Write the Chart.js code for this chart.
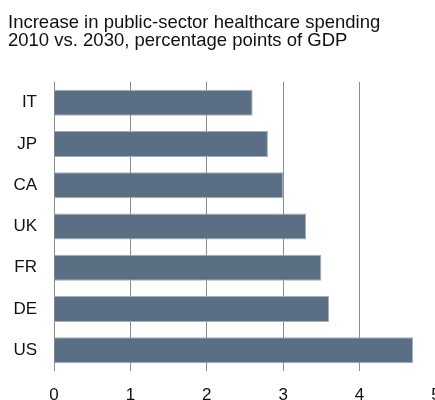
<!DOCTYPE html>
<html>
<head>
<meta charset="utf-8">
<script src="https://cdn.jsdelivr.net/npm/chart.js@4/dist/chart.umd.min.js"></script>
<style>
  html, body { margin: 0; padding: 0; background: #fff; overflow: hidden; }
  #wrap { width: 435px; height: 400px; overflow: hidden; position: relative; }
  canvas { position: absolute; left: 0; top: 0; }
</style>
</head>
<body>
<div id="wrap"><canvas id="c" width="460" height="420"></canvas></div>
<script>
// data
const titleLines = ['Increase in public-sector healthcare spending', '2010 vs. 2030, percentage points of GDP'];
const countries = ['IT', 'JP', 'CA', 'UK', 'FR', 'DE', 'US'];
const increase = [2.6, 2.8, 3.0, 3.3, 3.5, 3.6, 4.7];
const xTicks = [0, 1, 2, 3, 4, 5];

const FONT = "'Liberation Sans', Arial, sans-serif";
const BAR = '#5b6f84';
const GRID = '#8c8c8c';

Chart.defaults.font.family = FONT;
Chart.defaults.color = '#111';

new Chart(document.getElementById('c'), {
  type: 'bar',
  data: {
    labels: countries,
    datasets: [{
      data: increase,
      backgroundColor: BAR,
      borderColor: '#a3afbc',
      borderWidth: 1,
      borderSkipped: 'start',
      barPercentage: 0.63,
      categoryPercentage: 1
    }]
  },
  options: {
    indexAxis: 'y',
    responsive: false,
    animation: false,
    devicePixelRatio: 1,
    layout: { padding: { left: 8, right: 24, top: 0, bottom: 17 } },
    scales: {
      x: {
        min: 0,
        max: 5,
        afterBuildTicks: (scale) => {
          scale.ticks = xTicks.map(v => ({ value: v }));
        },
        afterFit: (scale) => { scale.height = 32; },
        ticks: { font: { size: 17 }, color: '#111', padding: 14, maxRotation: 0 },
        grid: { color: GRID, lineWidth: 1, drawTicks: false },
        border: { display: false }
      },
      y: {
        afterFit: (scale) => { scale.width = 46; },
        ticks: { font: { size: 17 }, color: '#111', padding: 17 },
        grid: { display: false, drawTicks: false },
        border: { display: false }
      }
    },
    plugins: {
      legend: { display: false },
      tooltip: { enabled: false },
      title: {
        display: true,
        text: titleLines,
        align: 'start',
        color: '#111',
        font: { size: 18.5, weight: 'normal', lineHeight: 0.973 },
        padding: { top: 13.75, bottom: 32.25 }
      }
    }
  }
});
</script>
</body>
</html>
